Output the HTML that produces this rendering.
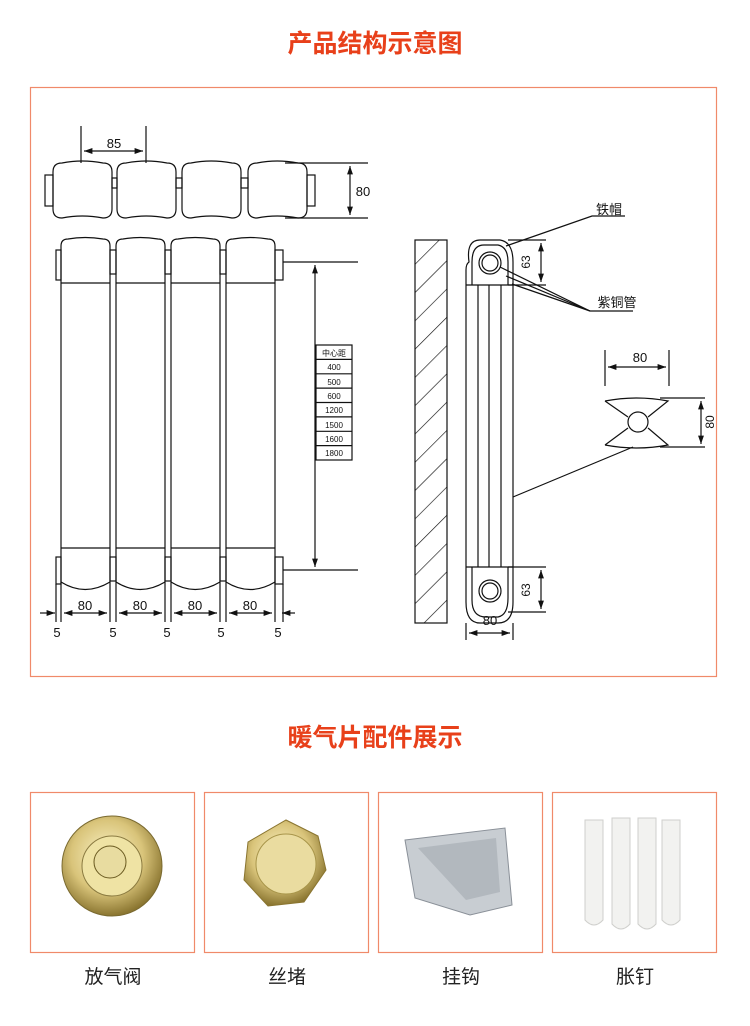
<!DOCTYPE html>
<html><head><meta charset="utf-8"><style>
body{margin:0;background:#fff;width:750px;height:1026px;overflow:hidden}
svg{display:block}
text{font-family:"Liberation Sans","Noto Sans CJK SC",sans-serif}
</style></head><body>
<svg width="750" height="1026" viewBox="0 0 750 1026" xmlns="http://www.w3.org/2000/svg">
<defs>
<marker id="a" viewBox="0 0 10 10" refX="10" refY="5" markerWidth="7" markerHeight="7" orient="auto-start-reverse"><path d="M0,1.5L10,5L0,8.5z" fill="#111"/></marker>
<pattern id="h" width="20" height="20" patternUnits="userSpaceOnUse" patternTransform="rotate(45)"><line x1="0" y1="0" x2="0" y2="20" stroke="#111" stroke-width="1.3"/></pattern>
<radialGradient id="g1" cx="45%" cy="40%" r="60%"><stop offset="0" stop-color="#fbf4c8"/><stop offset=".6" stop-color="#d9c47a"/><stop offset="1" stop-color="#8a7530"/></radialGradient>
</defs>
<text x="375" y="52" text-anchor="middle" font-size="25" font-weight="bold" fill="#e8401a">产品结构示意图</text>
<rect x="30.5" y="87.5" width="686" height="589" fill="none" stroke="#f08a6a" stroke-width="1.2"/>
<g fill="none" stroke="#111" stroke-width="1.2">
<rect x="45" y="175" width="8" height="31"/><rect x="307" y="175" width="8" height="31"/>
<path d="M53,172 Q53,163 62,163 Q82,159 103,163 Q112,163 112,172 L112,209 Q112,218 103,218 Q82,214 62,218 Q53,218 53,209Z"/>
<path d="M117,172 Q117,163 126,163 Q146,159 167,163 Q176,163 176,172 L176,209 Q176,218 167,218 Q146,214 126,218 Q117,218 117,209Z"/>
<path d="M182,172 Q182,163 191,163 Q211,159 232,163 Q241,163 241,172 L241,209 Q241,218 232,218 Q211,214 191,218 Q182,218 182,209Z"/>
<path d="M248,172 Q248,163 257,163 Q277,159 298,163 Q307,163 307,172 L307,209 Q307,218 298,218 Q277,214 257,218 Q248,218 248,209Z"/>
<rect x="112" y="178" width="5" height="10"/><rect x="176" y="178" width="6" height="10"/><rect x="241" y="178" width="7" height="10"/>
<line x1="81" y1="126" x2="81" y2="163"/><line x1="146" y1="126" x2="146" y2="163"/>
<line x1="84" y1="151" x2="143" y2="151" marker-start="url(#a)" marker-end="url(#a)"/>
<line x1="285" y1="163" x2="368" y2="163"/><line x1="285" y1="218" x2="368" y2="218"/>
<line x1="350" y1="166" x2="350" y2="215" marker-start="url(#a)" marker-end="url(#a)"/>
<rect x="56" y="250" width="5" height="30"/><rect x="56" y="557" width="5" height="27"/>
<rect x="275" y="250" width="8" height="30"/><rect x="275" y="557" width="8" height="27"/>
<g id="col">
<path d="M61,622 L61,246 Q61,239 68,239 Q85,236 103,239 Q110,239 110,246 L110,622"/>
<line x1="61" y1="283" x2="110" y2="283"/><line x1="61" y1="548" x2="110" y2="548"/>
<path d="M61,582 Q85,597 110,582"/>
</g>
<use href="#col" x="55"/><use href="#col" x="110"/><use href="#col" x="165"/>
<rect x="110" y="250" width="6" height="24"/><rect x="165" y="250" width="6" height="24"/><rect x="220" y="250" width="6" height="24"/>
<rect x="110" y="557" width="6" height="24"/><rect x="165" y="557" width="6" height="24"/><rect x="220" y="557" width="6" height="24"/>
<line x1="283" y1="262" x2="358" y2="262"/><line x1="283" y1="570" x2="358" y2="570"/>
<line x1="315" y1="265" x2="315" y2="567" marker-start="url(#a)" marker-end="url(#a)"/>
<rect x="316" y="345" width="36" height="115" fill="#fff"/>
<path d="M316,359.4H352M316,373.8H352M316,388.1H352M316,402.5H352M316,416.9H352M316,431.3H352M316,445.6H352"/>
<line x1="64" y1="613" x2="107" y2="613" marker-start="url(#a)" marker-end="url(#a)"/>
<line x1="119" y1="613" x2="162" y2="613" marker-start="url(#a)" marker-end="url(#a)"/>
<line x1="174" y1="613" x2="217" y2="613" marker-start="url(#a)" marker-end="url(#a)"/>
<line x1="229" y1="613" x2="272" y2="613" marker-start="url(#a)" marker-end="url(#a)"/>
<line x1="40" y1="613" x2="55" y2="613" marker-end="url(#a)"/><line x1="295" y1="613" x2="282" y2="613" marker-end="url(#a)"/>
<line x1="56" y1="584" x2="56" y2="622"/><line x1="283" y1="584" x2="283" y2="622"/>
<rect x="415" y="240" width="32" height="383" fill="url(#h)"/>
<path d="M469,262 Q466,240 480,240 L500,240 Q513,242 513,262 L513,602 Q513,623 498,623 L480,623 Q466,623 466,602 L466,270 Q466,264 469,262Z"/>
<path d="M472,262 Q472,245 484,245 L498,245 Q508,247 508,262 L508,285 M472,285 L472,262"/>
<path d="M472,567 L472,600 Q472,617 486,617 L498,617 Q508,615 508,598 L508,567"/>
<line x1="466" y1="285" x2="513" y2="285"/><line x1="466" y1="567" x2="513" y2="567"/>
<line x1="478" y1="285" x2="478" y2="567"/><line x1="489" y1="285" x2="489" y2="567"/><line x1="501" y1="285" x2="501" y2="567"/>
<circle cx="490" cy="263" r="11"/><circle cx="490" cy="263" r="8"/>
<circle cx="490" cy="591" r="11"/><circle cx="490" cy="591" r="8"/>
<line x1="508" y1="240" x2="546" y2="240"/><line x1="508" y1="285" x2="546" y2="285"/>
<line x1="541" y1="243" x2="541" y2="282" marker-start="url(#a)" marker-end="url(#a)"/>
<line x1="508" y1="567" x2="546" y2="567"/><line x1="508" y1="612" x2="546" y2="612"/>
<line x1="541" y1="570" x2="541" y2="609" marker-start="url(#a)" marker-end="url(#a)"/>
<polyline points="506,246 592,216 625,216"/>
<polyline points="500,267 590,311 633,311"/><line x1="506" y1="276" x2="590" y2="311"/><line x1="512" y1="284" x2="590" y2="311"/>
<line x1="466" y1="623" x2="466" y2="640"/><line x1="513" y1="623" x2="513" y2="640"/>
<line x1="469" y1="633" x2="510" y2="633" marker-start="url(#a)" marker-end="url(#a)"/>
<line x1="605" y1="350" x2="605" y2="386"/><line x1="669" y1="350" x2="669" y2="386"/>
<line x1="608" y1="367" x2="666" y2="367" marker-start="url(#a)" marker-end="url(#a)"/>
<path d="M605,401 Q637,395 668,401 L648,417 M605,401 L628,417"/>
<path d="M605,445 Q637,451 668,445 L648,428 M605,445 L628,428"/>
<circle cx="638" cy="422" r="10"/>
<line x1="660" y1="398" x2="705" y2="398"/><line x1="660" y1="447" x2="705" y2="447"/>
<line x1="701" y1="401" x2="701" y2="444" marker-start="url(#a)" marker-end="url(#a)"/>
<line x1="513" y1="497" x2="633" y2="447"/>
</g>
<g font-size="13" fill="#111" text-anchor="middle">
<text x="114" y="148">85</text><text x="363" y="196">80</text>
<text x="85" y="610">80</text><text x="140" y="610">80</text><text x="195" y="610">80</text><text x="250" y="610">80</text>
<text x="57" y="637">5</text><text x="113" y="637">5</text><text x="167" y="637">5</text><text x="221" y="637">5</text><text x="278" y="637">5</text>
<text x="490" y="625">80</text><text x="640" y="362">80</text>
<text x="609" y="214">铁帽</text><text x="617" y="307">紫铜管</text>
<text transform="translate(530,262) rotate(-90)" font-size="12">63</text>
<text transform="translate(530,590) rotate(-90)" font-size="12">63</text>
<text transform="translate(714,422) rotate(-90)" font-size="12">80</text>
</g>
<g font-size="8" fill="#111" text-anchor="middle">
<text x="334" y="356">中心距</text><text x="334" y="370">400</text><text x="334" y="385">500</text><text x="334" y="399">600</text><text x="334" y="413">1200</text><text x="334" y="428">1500</text><text x="334" y="442">1600</text><text x="334" y="456">1800</text>
</g>
<text x="375" y="746" text-anchor="middle" font-size="25" font-weight="bold" fill="#e8401a">暖气片配件展示</text>
<g fill="none" stroke="#f08a6a" stroke-width="1.2">
<rect x="30.5" y="792.5" width="164" height="160"/><rect x="204.5" y="792.5" width="164" height="160"/>
<rect x="378.5" y="792.5" width="164" height="160"/><rect x="552.5" y="792.5" width="164" height="160"/>
</g>
<circle cx="112" cy="866" r="50" fill="url(#g1)" stroke="#7a6a30"/>
<circle cx="112" cy="866" r="30" fill="#efe3a4" stroke="#8a7a40"/>
<circle cx="110" cy="862" r="16" fill="#e8dca0" stroke="#6a5a20"/>
<polygon points="286,820 318,836 326,870 304,902 268,906 244,880 248,842" fill="url(#g1)" stroke="#8a7530"/>
<circle cx="286" cy="864" r="30" fill="#eadca0" stroke="#a8954a"/>
<polygon points="405,840 505,828 512,905 470,915 415,898" fill="#c8cdd2" stroke="#8a9098"/>
<polygon points="418,848 496,838 500,892 466,900" fill="#b2b8be"/>
<g fill="#f2f2f0" stroke="#cfcfcc">
<path d="M585,820 h18 v100 q-9,10 -18,0z"/><path d="M612,818 h18 v106 q-9,10 -18,0z"/><path d="M638,818 h18 v106 q-9,10 -18,0z"/><path d="M662,820 h18 v100 q-9,10 -18,0z"/>
</g>
<g font-size="19" fill="#222" text-anchor="middle">
<text x="113" y="983">放气阀</text><text x="287" y="983">丝堵</text><text x="461" y="983">挂钩</text><text x="635" y="983">胀钉</text>
</g>
</svg>
</body></html>
